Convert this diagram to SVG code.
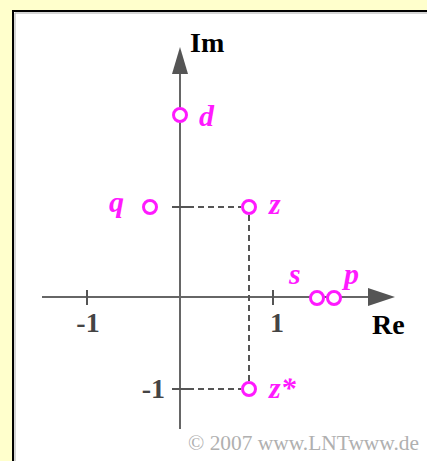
<svg xmlns="http://www.w3.org/2000/svg" width="427" height="461" viewBox="0 0 427 461">
<defs>
<style>
.ax{stroke:#666;stroke-width:2;fill:none}
.tk{stroke:#555;stroke-width:2;fill:none}
.ds{stroke:#555;stroke-width:2;fill:none;stroke-dasharray:6 4}
.arr{fill:#555}
.pt{fill:#fff;stroke:#ff1aff;stroke-width:3}
.ml{font-family:"Liberation Serif",serif;font-weight:bold;font-style:italic;font-size:30px;fill:#ff1aff}
.al{font-family:"Liberation Serif",serif;font-weight:bold;font-size:28px;fill:#000}
.nl{font-family:"Liberation Serif",serif;font-weight:bold;font-size:28px;fill:#444}
.cp{font-family:"Liberation Serif",serif;font-size:20px;fill:#b0b0b0}
</style>
</defs>
<rect x="0" y="0" width="427" height="461" fill="#ffffcc"/>
<rect x="13" y="11" width="420" height="460" fill="#fff" stroke="#000" stroke-width="2"/>
<line x1="15" y1="13" x2="427" y2="13" stroke="#aaa" stroke-width="1"/>
<line x1="15" y1="13" x2="15" y2="461" stroke="#aaa" stroke-width="1"/>
<g id="connectors">
<line class="ax" x1="42" y1="297" x2="370" y2="297"/>
<polygon class="arr" points="368,288 395,297 368,306"/>
<line class="ax" x1="180" y1="429" x2="180" y2="72"/>
<polygon class="arr" points="172,74 180,47 188,74"/>
<line class="tk" x1="87" y1="290" x2="87" y2="305"/>
<line class="tk" x1="273" y1="290" x2="273" y2="305"/>
<line class="tk" x1="172" y1="207" x2="188" y2="207"/>
<line class="tk" x1="172" y1="389" x2="188" y2="389"/>
<line class="ds" x1="188" y1="207" x2="241" y2="207"/>
<line class="ds" x1="188" y1="389" x2="241" y2="389"/>
<line class="ds" x1="249" y1="215" x2="249" y2="381"/>
</g>
<g id="axis-labels">
<text class="al" x="190" y="52">Im</text>
<text class="al" x="372" y="334">Re</text>
<text class="nl" x="88" y="332" text-anchor="middle">-1</text>
<text class="nl" x="277" y="332" text-anchor="middle">1</text>
<text class="nl" x="165" y="398" text-anchor="end">-1</text>
</g>
<g id="node-d"><circle class="pt" cx="180" cy="115" r="6.5"/><text class="ml" x="199" y="126">d</text></g>
<g id="node-q"><circle class="pt" cx="150" cy="207" r="6.5"/><text class="ml" x="109" y="212">q</text></g>
<g id="node-z"><circle class="pt" cx="249" cy="207" r="6.5"/><text class="ml" x="269" y="214">z</text></g>
<g id="node-zstar"><circle class="pt" cx="249" cy="389" r="6.5"/><text class="ml" x="269" y="398">z*</text></g>
<g id="node-s"><circle class="pt" cx="317" cy="298" r="6.5"/><text class="ml" x="289" y="284">s</text></g>
<g id="node-p"><circle class="pt" cx="334" cy="298" r="6.5"/><text class="ml" x="344" y="284">p</text></g>
<text class="cp" x="188" y="450" textLength="231" lengthAdjust="spacingAndGlyphs">© 2007 www.LNTwww.de</text>
</svg>
